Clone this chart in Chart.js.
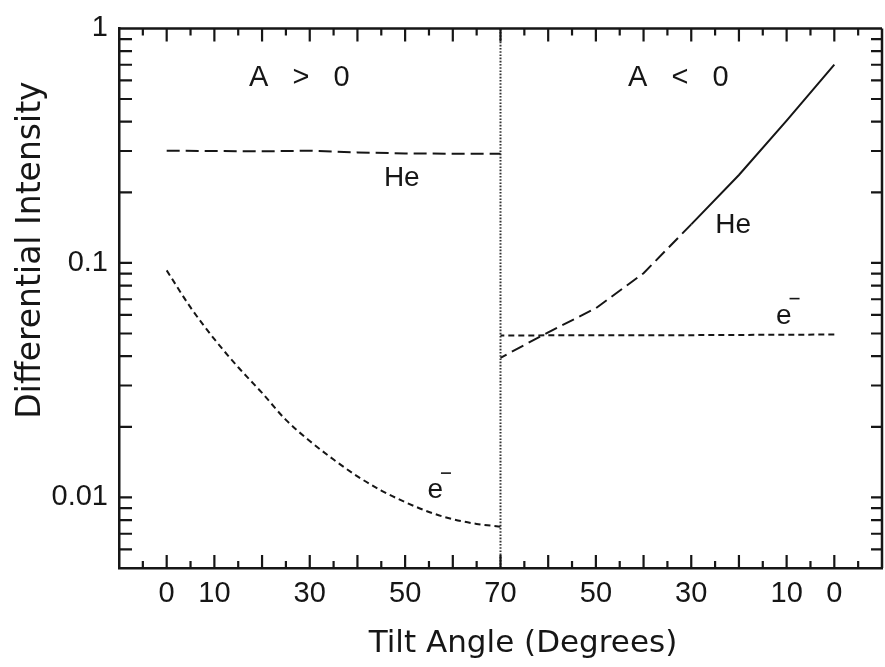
<!DOCTYPE html>
<html>
<head>
<meta charset="utf-8">
<script src="https://cdn.jsdelivr.net/npm/chart.js@4.4.1/dist/chart.umd.min.js"></script>
<style>
  html, body { margin: 0; padding: 0; background: #fff; }
  #wrap { width: 885px; height: 667px; }
</style>
</head>
<body>
<div id="wrap"><canvas id="chart" width="885" height="667"></canvas></div>
<script>
// tilt angles (degrees) for the He curves and the A<0 electron curve
const tiltAngles = [0, 10, 20, 30, 40, 50, 60, 70];
const heliumAPos = [0.301, 0.300, 0.299, 0.301, 0.296, 0.293, 0.292, 0.292];
const heliumANeg = [0.70, 0.404, 0.237, 0.146, 0.0904, 0.0641, 0.0506, 0.0394];
const electronANeg = [0.0495, 0.0494, 0.0493, 0.0492, 0.0492, 0.0491, 0.0491, 0.049];

// the A>0 electron curve bends hard at small tilt, so it gets a finer grid
const electronTilts = [0, 5, 10, 15, 20, 25, 30, 35, 40, 45, 50, 55, 60, 65, 70];
const electronAPos = [0.0929, 0.0646, 0.0473, 0.0359, 0.0279, 0.0214, 0.0174, 0.0145,
                      0.0123, 0.0107, 0.00955, 0.00867, 0.00807, 0.00771, 0.0075];

// x runs 0..70 for A>0 and then folds back 70..0 for A<0
const polarityBoundary = 70;
const xTickPositions = [0, 10, 30, 50, 70, 90, 110, 130, 140];
const yTickValues = [0.01, 0.1, 1];
const yRange = [0.005, 1];

const INK = '#161616';
const TICK_FONT = '"Liberation Sans", Arial, sans-serif';
const TEXT_FONT = '"DejaVu Sans", sans-serif';

const posAPos = t => t;
const posANeg = t => 2 * polarityBoundary - t;
const tiltLabel = p => (p <= polarityBoundary ? p : 2 * polarityBoundary - p);

const toPoints = (tilts, vals, fold) => tilts.map((t, i) => ({ x: fold(t), y: vals[i] }));

const HE_DASH = [13, 6];
const E_DASH = [6, 4];

// inward ticks on all four sides, top/right frame, titles and curve labels
const frameDecor = {
    id: 'frameDecor',
    afterDraw(chart) {
        const { ctx, chartArea: a, scales: { x, y } } = chart;
        ctx.save();
        ctx.strokeStyle = INK;
        ctx.lineWidth = 2.5;
        ctx.beginPath();
        ctx.moveTo(a.left, a.top); ctx.lineTo(a.right, a.top);
        ctx.moveTo(a.right, a.top); ctx.lineTo(a.right, a.bottom);
        ctx.stroke();

        ctx.lineWidth = 2.2;
        ctx.beginPath();
        for (let p = -5; p < 150; p += 5) {
            const px = x.getPixelForValue(p);
            const len = p % 10 === 0 ? 13 : 7;
            ctx.moveTo(px, a.bottom); ctx.lineTo(px, a.bottom - len);
            ctx.moveTo(px, a.top); ctx.lineTo(px, a.top + len);
        }
        for (let e = -3; e <= 0; e++) {
            for (let k = 1; k <= 9; k++) {
                const v = k * Math.pow(10, e);
                if (v <= yRange[0] * 1.0001 || v >= yRange[1] * 0.9999) continue;
                const py = y.getPixelForValue(v);
                ctx.moveTo(a.left, py); ctx.lineTo(a.left + 13, py);
                ctx.moveTo(a.right, py); ctx.lineTo(a.right - 11, py);
            }
        }
        ctx.stroke();

        ctx.fillStyle = INK;
        // axis titles
        ctx.font = '31px ' + TEXT_FONT;
        ctx.textAlign = 'center';
        ctx.textBaseline = 'middle';
        ctx.fillText('Tilt Angle (Degrees)', 523, 644);
        ctx.save();
        ctx.translate(31, 250);
        ctx.rotate(-Math.PI / 2);
        ctx.font = '33px ' + TEXT_FONT;
        ctx.fillText('Differential Intensity', 0, 0);
        ctx.restore();

        // panel and curve labels, anchored in data space
        ctx.textBaseline = 'alphabetic';
        const put = (txt, p, v, size) => {
            ctx.font = size + 'px ' + TICK_FONT;
            ctx.fillText(txt, x.getPixelForValue(p), y.getPixelForValue(v));
        };
        put('A   >   0', 27.8, 0.57, 29);
        put('A   <   0', 107.3, 0.57, 29);
        put('He', 49.3, 0.213, 28);
        put('He', 118.8, 0.134, 28);

        const electron = (p, v) => {
            ctx.font = '28px ' + TICK_FONT;
            const cx = x.getPixelForValue(p), base = y.getPixelForValue(v);
            ctx.fillText('e', cx, base);
            const w = ctx.measureText('e').width;
            ctx.lineWidth = 1.6;
            ctx.beginPath();
            ctx.moveTo(cx + w / 2 - 2, base - 25);
            ctx.lineTo(cx + w / 2 + 8, base - 25);
            ctx.stroke();
        };
        electron(56.3, 0.00993);
        electron(129.4, 0.0551);
        ctx.restore();
    }
};

const line = (data, dash, extra) => Object.assign({
    data, borderColor: INK, borderWidth: 2, borderDash: dash,
    pointRadius: 0, fill: false, tension: 0
}, extra || {});

new Chart(document.getElementById('chart').getContext('2d'), {
    type: 'line',
    data: {
        datasets: [
            line(toPoints(tiltAngles, heliumAPos, posAPos), HE_DASH),
            line(toPoints(electronTilts, electronAPos, posAPos), E_DASH, { cubicInterpolationMode: 'monotone' }),
            line(toPoints(tiltAngles, heliumANeg, posANeg), HE_DASH, {
                // the high-intensity end of the A<0 He curve is drawn solid
                segment: { borderDash: c => (c.p0.parsed.x >= 120 ? [] : HE_DASH) }
            }),
            line(toPoints(tiltAngles, electronANeg, posANeg), E_DASH),
            line([{ x: polarityBoundary, y: yRange[0] }, { x: polarityBoundary, y: yRange[1] }],
                 [1.6, 1.6], { borderWidth: 2, borderColor: '#333' })
        ]
    },
    options: {
        responsive: false,
        animation: false,
        layout: { padding: { top: 21, right: 3, left: 0, bottom: 0 } },
        plugins: { legend: { display: false }, tooltip: { enabled: false } },
        scales: {
            x: {
                type: 'linear', min: -10, max: 150,
                afterBuildTicks: s => { s.ticks = xTickPositions.map(v => ({ value: v })); },
                afterFit: s => { s.height = 99; },
                grid: { display: false, drawTicks: false },
                border: { display: true, color: INK, width: 2.5 },
                ticks: {
                    autoSkip: false, maxRotation: 0, padding: 9, color: INK,
                    font: { family: TICK_FONT, size: 29 },
                    callback: v => String(tiltLabel(v))
                }
            },
            y: {
                type: 'logarithmic', min: yRange[0], max: yRange[1],
                afterBuildTicks: s => { s.ticks = yTickValues.map(v => ({ value: v })); },
                afterFit: s => { s.width = 119; },
                grid: { display: false, drawTicks: false },
                border: { display: true, color: INK, width: 2.5 },
                ticks: {
                    padding: 11, color: INK,
                    font: { family: TICK_FONT, size: 29 },
                    callback: v => String(v)
                }
            }
        }
    },
    plugins: [frameDecor]
});
</script>
</body>
</html>
